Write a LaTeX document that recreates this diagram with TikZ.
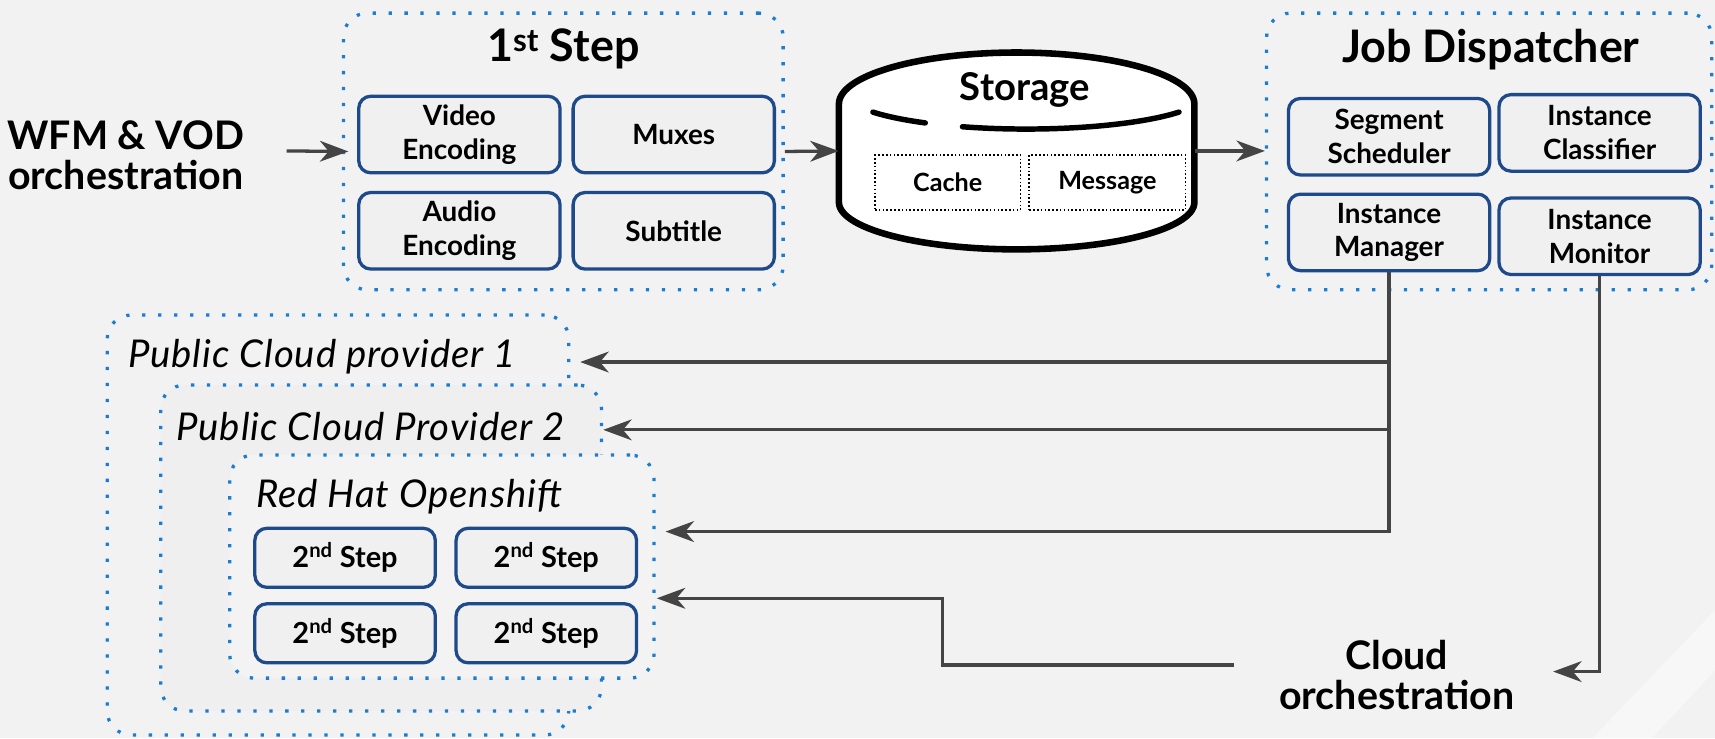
\documentclass[tikz,border=0pt]{standalone}
\usepackage{fontspec}
\setmainfont{Lato}
\usetikzlibrary{arrows.meta}
\definecolor{bgc}{HTML}{F2F2F2}
\definecolor{pctwo}{HTML}{EFEFEF}
\definecolor{rhfill}{HTML}{F3F3F3}
\definecolor{grpblue}{HTML}{1B7DD0}
\definecolor{navy}{HTML}{1E4A8A}
\definecolor{boxfill}{HTML}{F0F0F0}
\definecolor{arrc}{HTML}{444444}
\begin{document}
\begin{tikzpicture}[x=1pt,y=-1pt,
  grp/.style={draw=grpblue, line width=3pt, dash pattern=on 3pt off 11.6pt, rounded corners=22pt, inner sep=0pt},
  inbox/.style={draw=navy, line width=3pt, rounded corners=11pt, fill=boxfill, align=center, font=\bfseries\fontsize{25.5}{31}\selectfont, inner sep=0pt, minimum width=184pt, minimum height=70pt},
  stepbox/.style={inbox, minimum width=165pt, minimum height=54pt, font=\bfseries\fontsize{26.5}{31}\selectfont},
  biglbl/.style={font=\bfseries\fontsize{36}{37}\selectfont, align=center},
  ttl/.style={font=\bfseries\fontsize{41}{44}\selectfont},
  cloudlbl/.style={font=\itshape\fontsize{35}{38}\selectfont\addfontfeature{LetterSpace=2.5}, anchor=west, inner sep=0pt},
  arr/.style={draw=arrc, line width=3pt, -{Stealth[length=26pt,width=19pt,inset=8pt]}},
  conn/.style={draw=arrc, line width=3pt},
  cachebox/.style={draw=black, line width=1.5pt, dotted, minimum width=133pt, minimum height=50pt, font=\bfseries\fontsize{23}{26}\selectfont}
]
\fill[bgc] (0,0) rectangle (1568,675);
\useasboundingbox (0,0) rectangle (1568,675);
\fill[white, opacity=0.45] (1456,675) -- (1568,558) -- (1568,613) -- (1510,675) -- cycle;

% left label
\node[biglbl] (wfm) at (115,142) {WFM \& VOD\\orchestration};

% 1st step group
\node[grp, minimum width=402pt, minimum height=253pt] (step1) at (515,138.5) {};
\node[ttl] (t1) at (515,45) {1\textsuperscript{st}\ Step};
\node[inbox] (ve) at (420,123) {Video\\Encoding};
\node[inbox] (mux) at (616,123) {Muxes};
\node[inbox] (ae) at (420,211) {Audio\\Encoding};
\node[inbox] (sub) at (616,211) {Subtitle};

% storage
\node[minimum width=325pt, minimum height=180pt, inner sep=0pt] (stor) at (929.5,138) {};
\draw[line width=6pt, fill=white] plot[domain=180:360, samples=60] ({929.5+162.5*cos(\x)},{95+47*sin(\x)})
  -- plot[domain=0:180, samples=60] ({929.5+162.5*cos(\x)},{185+43*sin(\x)}) -- cycle;
\draw[line width=5pt, line cap=round] plot[domain=123.9:148, samples=20] ({938+165*cos(\x)},{85+33*sin(\x)});
\draw[line width=5pt, line cap=round] plot[domain=32:110.6, samples=40] ({938+165*cos(\x)},{85+33*sin(\x)});
\node[font=\bfseries\fontsize{35}{37}\selectfont] (storlbl) at (937,82) {Storage};
\node[cachebox] (cache) at (866.5,167) {Cache};
\node[cachebox, minimum width=143pt] (msg) at (1012.5,167) {Message};

% job dispatcher
\node[grp, minimum width=407pt, minimum height=253pt] (jd) at (1361.5,138.5) {};
\node[ttl] (t2) at (1363,45) {Job Dispatcher};
\node[inbox] (seg) at (1270,125) {Segment\\Scheduler};
\node[inbox] (cls) at (1462.5,121.5) {Instance\\Classifier};
\node[inbox] (mgr) at (1270,212.5) {Instance\\Manager};
\node[inbox] (mon) at (1462.5,216) {Instance\\Monitor};

% cloud groups
\node[grp, fill=bgc, minimum width=422pt, minimum height=384pt] (pc1) at (309,480) {};
\node[cloudlbl] (pc1l) at (117,326) {Public Cloud provider 1};
\node[grp, fill=pctwo, minimum width=403pt, minimum height=298pt] (pc2) at (348.5,501) {};
\node[cloudlbl] (pc2l) at (161,390) {Public Cloud Provider 2};
\node[grp, fill=rhfill, minimum width=388pt, minimum height=204pt] (rh) at (404,518) {};
\node[cloudlbl] (rhl) at (234,454) {Red Hat Openshift};
\node[stepbox] (s1) at (315.5,510) {2\textsuperscript{nd} Step};
\node[stepbox] (s2) at (499.5,510) {2\textsuperscript{nd} Step};
\node[stepbox] (s3) at (315.5,579) {2\textsuperscript{nd} Step};
\node[stepbox] (s4) at (499.5,579) {2\textsuperscript{nd} Step};

% cloud orchestration
\node[biglbl] (cloud) at (1277,617) {Cloud\\orchestration};

% connectors
\coordinate (wfmout) at (262,138);
\draw[arr] (wfmout) -- ([xshift=6pt]step1.west);
\draw[arr] (step1.east) -- (stor.west);
\draw[arr] (stor.east) -- (jd.west |- stor.east);

\coordinate (b1) at (1270,331);
\coordinate (b2) at (1270,393);
\draw[arr] (mgr.south) |- ([xshift=9pt]rh.east |- 0,486);
\draw[arr] (b1) -- ([xshift=9pt]pc1.east |- b1);
\draw[arr] (b2) -- ([xshift=0pt]pc2.east |- b2);

\coordinate (ctip) at (1420,614);
\draw[arr] (mon.south) |- (ctip);

\coordinate (cs) at (1128,608);
\coordinate (cm) at (862,547);
\draw[arr] (cs) -| (cm) -- ([xshift=1pt]rh.east |- cm);
\end{tikzpicture}
\end{document}
